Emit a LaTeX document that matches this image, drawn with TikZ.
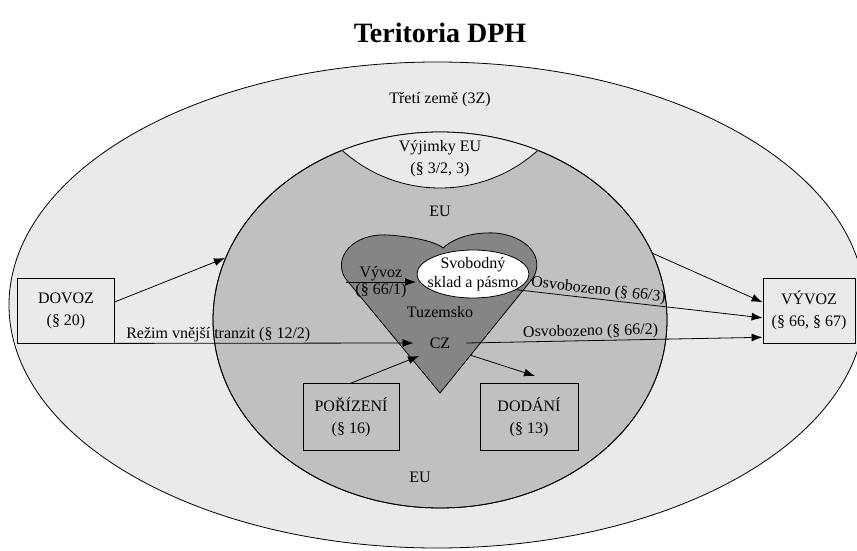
\documentclass[tikz,border=0pt]{standalone}
\usepackage{fontspec}
\setmainfont{Liberation Serif}
\usetikzlibrary{arrows.meta,shapes.geometric}
\definecolor{thirdgray}{HTML}{E8EAEC}
\definecolor{eugray}{HTML}{C0C0C2}
\definecolor{czgray}{HTML}{858585}
\begin{document}
\begin{tikzpicture}[x=1pt, y=-1pt,
  lbl/.style={font=\fontsize{16}{22}\selectfont, align=center, inner sep=1pt},
  box/.style={lbl, draw, line width=0.8pt, minimum height=65pt},
  arr/.style={-{Latex[length=11pt,width=8pt]}, line width=0.8pt}]
\clip (0,0) rectangle (857,551);
\fill[white] (0,0) rectangle (857,551);
% zones
\draw[line width=0.8pt, fill=thirdgray] (437,305) ellipse [x radius=428pt, y radius=243pt];
\draw[line width=0.8pt, fill=eugray] (440,320) ellipse [x radius=227pt, y radius=188pt];
\begin{scope}
\clip (440,320) ellipse [x radius=227pt, y radius=188pt];
\draw[line width=0.8pt, fill=thirdgray] (440,42) circle [radius=146pt];
\end{scope}
\draw[line width=0.8pt] (440,320) ellipse [x radius=227pt, y radius=188pt];
\draw[line width=0.8pt, fill=czgray] (440,393) -- (345,278)
  .. controls (333,258) and (352,233) .. (388,235)
  .. controls (418,237) and (438,243) .. (443,248)
  .. controls (455,237) and (475,232) .. (495,233)
  .. controls (528,236) and (545,258) .. (533,278) -- cycle;
\path (473,274) node[draw, line width=0.8pt, fill=white, ellipse, minimum width=112pt, minimum height=48pt, inner sep=0pt] (svob) {};
\path (473,274) node[lbl, font=\fontsize{16}{19}\selectfont] (svobtext) {Svobodný\\sklad a pásmo};

% texts
\path (440,33) node[font=\fontsize{28}{30}\selectfont\bfseries] (title) {Teritoria DPH};
\path (440,100) node[lbl] (third) {Třetí země (3Z)};
\path (440,159) node[lbl] (vyjimky) {Výjimky EU\\(§ 3/2, 3)};
\path (440,211) node[lbl] (eutop) {EU};
\path (420,477) node[lbl] (eubottom) {EU};
\path (440,312) node[lbl] (tuzemsko) {Tuzemsko};
\path (440,343) node[lbl, inner xsep=16pt, inner ysep=3pt] (cz) {CZ};

% boxes
\path (66,310.5) node[box, minimum width=97pt] (dovoz) {DOVOZ\\(§ 20)};
\path (809,310.5) node[box, minimum width=92pt] (vyvoz) {VÝVOZ\\(§ 66, § 67)};
\path (351,417) node[box, minimum width=96pt, minimum height=67pt] (porizeni) {POŘÍZENÍ\\(§ 16)};
\path (529,417) node[box, minimum width=98pt, minimum height=67pt] (dodani) {DODÁNÍ\\(§ 13)};

\coordinate (euleft) at (225,258);
\coordinate (euright) at (652,253);
\coordinate (vyvozstart) at (346,282);
\coordinate (vyvozend) at (416,282);
\coordinate (czin) at (419,356);
\coordinate (czout) at (470,355);
\coordinate (dodaniin) at (535,376);

% arrows
\draw[arr] (dovoz.10) -- (euleft);
\draw[arr] (dovoz.south east) -- node[lbl, pos=0, anchor=south west, xshift=10pt] (tranzit) {Režim vnější tranzit (§ 12/2)} (cz.west);
\draw[arr] (vyvozstart) -- node[lbl, above] (vyvozlbl) {Vývoz} node[lbl, below] (vyvozpar) {(§ 66/1)} (vyvozend);
\draw[arr] (svob.-20) -- node[lbl, sloped, above, pos=0.33] (osv3) {Osvobozeno (§ 66/3)} (vyvoz.189);
\draw[arr] (cz.east) -- node[lbl, sloped, above, pos=0.42] (osv2) {Osvobozeno (§ 66/2)} (vyvoz.210);
\draw[arr] (euright) -- (vyvoz.170);
\draw[arr] (porizeni.north) -- (czin);
\draw[arr] (czout) -- (dodaniin);
\end{tikzpicture}
\end{document}
